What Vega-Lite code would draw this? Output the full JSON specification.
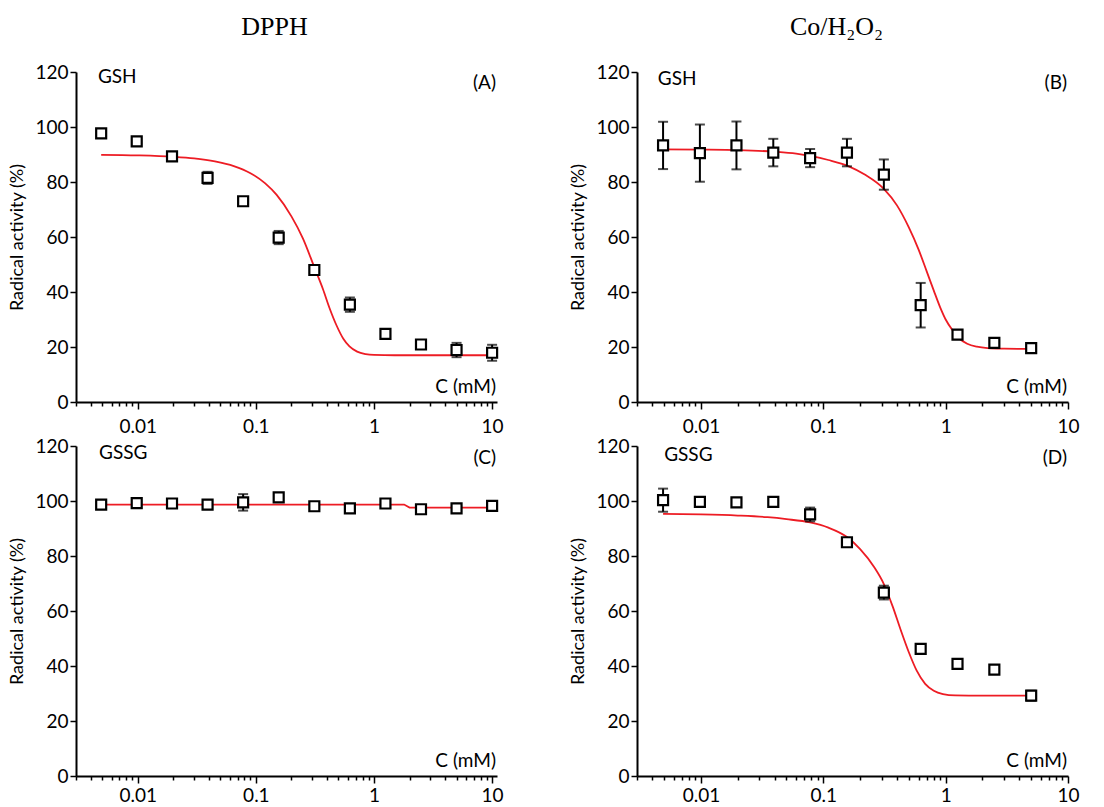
{
  "$schema": "https://vega.github.io/schema/vega-lite/v6.json",
  "padding": {"left": 8, "top": 14, "right": 5, "bottom": 5},
  "background": "white",
  "columns": 2,
  "bounds": "flush",
  "spacing": {"row": 44, "column": 140},
  "datasets": {
    "points": [
      {"p": "A", "c": 0.0049, "y": 97.7, "e": 0.8},
      {"p": "A", "c": 0.0098, "y": 94.8, "e": 0.6},
      {"p": "A", "c": 0.0195, "y": 89.3, "e": 0.8},
      {"p": "A", "c": 0.039, "y": 81.5, "e": 2.2},
      {"p": "A", "c": 0.078, "y": 73.0, "e": 0.7},
      {"p": "A", "c": 0.156, "y": 59.8, "e": 2.4},
      {"p": "A", "c": 0.3125, "y": 48.0, "e": 0.8},
      {"p": "A", "c": 0.625, "y": 35.4, "e": 2.6},
      {"p": "A", "c": 1.25, "y": 24.8, "e": 1.0},
      {"p": "A", "c": 2.5, "y": 20.9, "e": 0.9},
      {"p": "A", "c": 5, "y": 18.9, "e": 2.6},
      {"p": "A", "c": 10, "y": 17.9, "e": 2.9},
      {"p": "B", "c": 0.0049, "y": 93.3, "e": 8.6},
      {"p": "B", "c": 0.0098, "y": 90.5, "e": 10.4},
      {"p": "B", "c": 0.0195, "y": 93.3, "e": 8.7},
      {"p": "B", "c": 0.039, "y": 90.7, "e": 5.0},
      {"p": "B", "c": 0.078, "y": 88.7, "e": 3.3},
      {"p": "B", "c": 0.156, "y": 90.7, "e": 5.0},
      {"p": "B", "c": 0.3125, "y": 82.7, "e": 5.5},
      {"p": "B", "c": 0.625, "y": 35.2, "e": 8.1},
      {"p": "B", "c": 1.25, "y": 24.5, "e": 1.0},
      {"p": "B", "c": 2.5, "y": 21.5, "e": 1.0},
      {"p": "B", "c": 5, "y": 19.6, "e": 0.8},
      {"p": "C", "c": 0.0049, "y": 98.7, "e": 1.0},
      {"p": "C", "c": 0.0098, "y": 99.2, "e": 1.5},
      {"p": "C", "c": 0.0195, "y": 99.1, "e": 1.0},
      {"p": "C", "c": 0.039, "y": 98.7, "e": 0.6},
      {"p": "C", "c": 0.078, "y": 99.5, "e": 3.0},
      {"p": "C", "c": 0.156, "y": 101.3, "e": 0.6},
      {"p": "C", "c": 0.3125, "y": 98.1, "e": 1.0},
      {"p": "C", "c": 0.625, "y": 97.3, "e": 0.5},
      {"p": "C", "c": 1.25, "y": 99.1, "e": 1.0},
      {"p": "C", "c": 2.5, "y": 97.0, "e": 0.8},
      {"p": "C", "c": 5, "y": 97.3, "e": 0.5},
      {"p": "C", "c": 10, "y": 98.2, "e": 1.5},
      {"p": "D", "c": 0.0049, "y": 100.3, "e": 4.2},
      {"p": "D", "c": 0.0098, "y": 99.7, "e": 1.0},
      {"p": "D", "c": 0.0195, "y": 99.5, "e": 0.5},
      {"p": "D", "c": 0.039, "y": 99.7, "e": 1.0},
      {"p": "D", "c": 0.078, "y": 95.1, "e": 2.5},
      {"p": "D", "c": 0.156, "y": 85.0, "e": 1.0},
      {"p": "D", "c": 0.3125, "y": 66.7, "e": 2.5},
      {"p": "D", "c": 0.625, "y": 46.2, "e": 0.5},
      {"p": "D", "c": 1.25, "y": 40.8, "e": 0.5},
      {"p": "D", "c": 2.5, "y": 38.7, "e": 1.0},
      {"p": "D", "c": 5, "y": 29.2, "e": 1.8}
    ],
    "curves": [
      {"p": "A", "c": 0.0049, "y": 89.9},
      {"p": "A", "c": 0.01, "y": 89.7},
      {"p": "A", "c": 0.02, "y": 89.2},
      {"p": "A", "c": 0.03, "y": 88.6},
      {"p": "A", "c": 0.045, "y": 87.5},
      {"p": "A", "c": 0.065, "y": 85.8},
      {"p": "A", "c": 0.09, "y": 83.2},
      {"p": "A", "c": 0.12, "y": 79.5},
      {"p": "A", "c": 0.15, "y": 75.3},
      {"p": "A", "c": 0.2, "y": 67.5},
      {"p": "A", "c": 0.25, "y": 59.5},
      {"p": "A", "c": 0.3125, "y": 49.0},
      {"p": "A", "c": 0.37, "y": 41.0},
      {"p": "A", "c": 0.42, "y": 34.2},
      {"p": "A", "c": 0.48, "y": 28.0},
      {"p": "A", "c": 0.55, "y": 23.0},
      {"p": "A", "c": 0.62, "y": 20.2},
      {"p": "A", "c": 0.72, "y": 18.3},
      {"p": "A", "c": 0.85, "y": 17.4},
      {"p": "A", "c": 1.0, "y": 17.1},
      {"p": "A", "c": 1.5, "y": 17.0},
      {"p": "A", "c": 3, "y": 17.0},
      {"p": "A", "c": 10, "y": 17.0},
      {"p": "B", "c": 0.0049, "y": 91.9},
      {"p": "B", "c": 0.01, "y": 91.8},
      {"p": "B", "c": 0.02, "y": 91.6},
      {"p": "B", "c": 0.04, "y": 91.0},
      {"p": "B", "c": 0.06, "y": 90.3},
      {"p": "B", "c": 0.08, "y": 89.4},
      {"p": "B", "c": 0.11, "y": 88.0},
      {"p": "B", "c": 0.16, "y": 85.8},
      {"p": "B", "c": 0.22, "y": 82.6},
      {"p": "B", "c": 0.3125, "y": 77.5},
      {"p": "B", "c": 0.4, "y": 71.5},
      {"p": "B", "c": 0.5, "y": 63.5},
      {"p": "B", "c": 0.6, "y": 55.5},
      {"p": "B", "c": 0.7, "y": 47.5},
      {"p": "B", "c": 0.8, "y": 40.5},
      {"p": "B", "c": 0.9, "y": 34.5},
      {"p": "B", "c": 1.0, "y": 30.0},
      {"p": "B", "c": 1.15, "y": 25.8},
      {"p": "B", "c": 1.3, "y": 23.0},
      {"p": "B", "c": 1.5, "y": 21.2},
      {"p": "B", "c": 1.8, "y": 20.1},
      {"p": "B", "c": 2.2, "y": 19.6},
      {"p": "B", "c": 3, "y": 19.4},
      {"p": "B", "c": 5, "y": 19.3},
      {"p": "C", "c": 0.0049, "y": 98.7},
      {"p": "C", "c": 0.1, "y": 98.7},
      {"p": "C", "c": 1.0, "y": 98.7},
      {"p": "C", "c": 1.8, "y": 98.7},
      {"p": "C", "c": 2.0, "y": 97.6},
      {"p": "C", "c": 5, "y": 97.6},
      {"p": "C", "c": 10, "y": 97.6},
      {"p": "D", "c": 0.0049, "y": 95.3},
      {"p": "D", "c": 0.01, "y": 95.1},
      {"p": "D", "c": 0.02, "y": 94.7},
      {"p": "D", "c": 0.035, "y": 94.1},
      {"p": "D", "c": 0.05, "y": 93.4},
      {"p": "D", "c": 0.078, "y": 92.2},
      {"p": "D", "c": 0.11, "y": 90.3},
      {"p": "D", "c": 0.156, "y": 86.9},
      {"p": "D", "c": 0.2, "y": 82.5},
      {"p": "D", "c": 0.26, "y": 76.0},
      {"p": "D", "c": 0.3125, "y": 69.8},
      {"p": "D", "c": 0.37, "y": 61.5},
      {"p": "D", "c": 0.43, "y": 53.0},
      {"p": "D", "c": 0.5, "y": 45.0},
      {"p": "D", "c": 0.58, "y": 38.3},
      {"p": "D", "c": 0.68, "y": 33.5},
      {"p": "D", "c": 0.8, "y": 31.0},
      {"p": "D", "c": 0.95, "y": 29.8},
      {"p": "D", "c": 1.2, "y": 29.3},
      {"p": "D", "c": 2, "y": 29.2},
      {"p": "D", "c": 5, "y": 29.2}
    ]
  },
  "concat": [
    {
      "width": 421, "height": 330,
      "title": {"text": "DPPH", "dx": -12},
      "encoding": {
        "x": {"field": "c", "type": "quantitative", "scale": {"type": "log", "domain": [0.003, 11], "nice": false},
          "axis": {"title": null, "labelPadding": 8, "values": [0.003,0.004,0.005,0.006,0.007,0.008,0.009,0.01,0.02,0.03,0.04,0.05,0.06,0.07,0.08,0.09,0.1,0.2,0.3,0.4,0.5,0.6,0.7,0.8,0.9,1,2,3,4,5,6,7,8,9,10],
            "labelExpr": "indexof([0.01,0.1,1,10], datum.value) >= 0 ? format(datum.value, '~g') : ''",
            "tickSize": {"condition": {"test": "indexof([0.01,0.1,1,10], datum.value) >= 0", "value": 7}, "value": 4}}},
        "y": {"field": "y", "type": "quantitative", "scale": {"domain": [0, 120], "nice": false},
          "axis": {"title": "Radical activity (%)", "values": [0, 20, 40, 60, 80, 100, 120]}}
      },
      "layer": [
        {"data": {"name": "curves"}, "transform": [{"filter": "datum.p === 'A'"}], "mark": {"type": "line", "color": "#ed1c24", "strokeWidth": 1.8, "interpolate": "monotone"}},
        {"data": {"name": "points"}, "transform": [{"filter": "datum.p === 'A'"}], "mark": {"type": "errorbar", "ticks": true, "size": 10, "thickness": 2, "color": "black"}, "encoding": {"yError": {"field": "e"}}},
        {"data": {"name": "points"}, "transform": [{"filter": "datum.p === 'A'"}], "mark": {"type": "point", "shape": "square", "size": 100, "fill": "white", "stroke": "black", "strokeWidth": 2.2, "opacity": 1}},
        {"data": {"name": "points"}, "transform": [{"filter": "datum.p === 'A' && datum.c === 10"}], "mark": {"type": "text", "text": "GSH", "align": "left", "baseline": "alphabetic", "font": "Lato", "fontSize": 19, "color": "black"}, "encoding": {"x": {"datum": 0.0046, "type": "quantitative"}, "y": {"datum": 116, "type": "quantitative"}}},
        {"data": {"name": "points"}, "transform": [{"filter": "datum.p === 'A' && datum.c === 10"}], "mark": {"type": "text", "text": "(A)", "align": "right", "baseline": "alphabetic", "dx": -1, "font": "Lato", "fontSize": 19, "color": "black"}, "encoding": {"x": {"datum": 11, "type": "quantitative"}, "y": {"datum": 114, "type": "quantitative"}}},
        {"data": {"name": "points"}, "transform": [{"filter": "datum.p === 'A' && datum.c === 10"}], "mark": {"type": "text", "text": "C (mM)", "align": "right", "baseline": "alphabetic", "dx": -1, "font": "Lato", "fontSize": 19, "color": "black"}, "encoding": {"x": {"datum": 11, "type": "quantitative"}, "y": {"datum": 3.3, "type": "quantitative"}}}
      ]
    },
    {
      "width": 431, "height": 330,
      "title": {"text": "Co/H₂O₂", "dx": -16},
      "encoding": {
        "x": {"field": "c", "type": "quantitative", "scale": {"type": "log", "domain": [0.003, 10], "nice": false},
          "axis": {"title": null, "labelPadding": 8, "values": [0.003,0.004,0.005,0.006,0.007,0.008,0.009,0.01,0.02,0.03,0.04,0.05,0.06,0.07,0.08,0.09,0.1,0.2,0.3,0.4,0.5,0.6,0.7,0.8,0.9,1,2,3,4,5,6,7,8,9,10],
            "labelExpr": "indexof([0.01,0.1,1,10], datum.value) >= 0 ? format(datum.value, '~g') : ''",
            "tickSize": {"condition": {"test": "indexof([0.01,0.1,1,10], datum.value) >= 0", "value": 7}, "value": 4}}},
        "y": {"field": "y", "type": "quantitative", "scale": {"domain": [0, 120], "nice": false},
          "axis": {"title": "Radical activity (%)", "values": [0, 20, 40, 60, 80, 100, 120]}}
      },
      "layer": [
        {"data": {"name": "curves"}, "transform": [{"filter": "datum.p === 'B'"}], "mark": {"type": "line", "color": "#ed1c24", "strokeWidth": 1.8, "interpolate": "monotone"}},
        {"data": {"name": "points"}, "transform": [{"filter": "datum.p === 'B'"}], "mark": {"type": "errorbar", "ticks": true, "size": 10, "thickness": 2, "color": "black"}, "encoding": {"yError": {"field": "e"}}},
        {"data": {"name": "points"}, "transform": [{"filter": "datum.p === 'B'"}], "mark": {"type": "point", "shape": "square", "size": 100, "fill": "white", "stroke": "black", "strokeWidth": 2.2, "opacity": 1}},
        {"data": {"name": "points"}, "transform": [{"filter": "datum.p === 'B' && datum.c === 5"}], "mark": {"type": "text", "text": "GSH", "align": "left", "baseline": "alphabetic", "font": "Lato", "fontSize": 19, "color": "black"}, "encoding": {"x": {"datum": 0.00444, "type": "quantitative"}, "y": {"datum": 115.3, "type": "quantitative"}}},
        {"data": {"name": "points"}, "transform": [{"filter": "datum.p === 'B' && datum.c === 5"}], "mark": {"type": "text", "text": "(B)", "align": "right", "baseline": "alphabetic", "dx": -1, "font": "Lato", "fontSize": 19, "color": "black"}, "encoding": {"x": {"datum": 10, "type": "quantitative"}, "y": {"datum": 113.8, "type": "quantitative"}}},
        {"data": {"name": "points"}, "transform": [{"filter": "datum.p === 'B' && datum.c === 5"}], "mark": {"type": "text", "text": "C (mM)", "align": "right", "baseline": "alphabetic", "dx": -1, "font": "Lato", "fontSize": 19, "color": "black"}, "encoding": {"x": {"datum": 10, "type": "quantitative"}, "y": {"datum": 3.3, "type": "quantitative"}}}
      ]
    },
    {
      "width": 421, "height": 330,
      "encoding": {
        "x": {"field": "c", "type": "quantitative", "scale": {"type": "log", "domain": [0.003, 11], "nice": false},
          "axis": {"title": null, "labelPadding": 3, "values": [0.003,0.004,0.005,0.006,0.007,0.008,0.009,0.01,0.02,0.03,0.04,0.05,0.06,0.07,0.08,0.09,0.1,0.2,0.3,0.4,0.5,0.6,0.7,0.8,0.9,1,2,3,4,5,6,7,8,9,10],
            "labelExpr": "indexof([0.01,0.1,1,10], datum.value) >= 0 ? format(datum.value, '~g') : ''",
            "tickSize": {"condition": {"test": "indexof([0.01,0.1,1,10], datum.value) >= 0", "value": 7}, "value": 4}}},
        "y": {"field": "y", "type": "quantitative", "scale": {"domain": [0, 120], "nice": false},
          "axis": {"title": "Radical activity (%)", "values": [0, 20, 40, 60, 80, 100, 120]}}
      },
      "layer": [
        {"data": {"name": "curves"}, "transform": [{"filter": "datum.p === 'C'"}], "mark": {"type": "line", "color": "#ed1c24", "strokeWidth": 1.8}},
        {"data": {"name": "points"}, "transform": [{"filter": "datum.p === 'C'"}], "mark": {"type": "errorbar", "ticks": true, "size": 10, "thickness": 2, "color": "black"}, "encoding": {"yError": {"field": "e"}}},
        {"data": {"name": "points"}, "transform": [{"filter": "datum.p === 'C'"}], "mark": {"type": "point", "shape": "square", "size": 100, "fill": "white", "stroke": "black", "strokeWidth": 2.2, "opacity": 1}},
        {"data": {"name": "points"}, "transform": [{"filter": "datum.p === 'C' && datum.c === 10"}], "mark": {"type": "text", "text": "GSSG", "align": "left", "baseline": "alphabetic", "font": "Lato", "fontSize": 19, "color": "black"}, "encoding": {"x": {"datum": 0.0047, "type": "quantitative"}, "y": {"datum": 115.3, "type": "quantitative"}}},
        {"data": {"name": "points"}, "transform": [{"filter": "datum.p === 'C' && datum.c === 10"}], "mark": {"type": "text", "text": "(C)", "align": "right", "baseline": "alphabetic", "dx": -1, "font": "Lato", "fontSize": 19, "color": "black"}, "encoding": {"x": {"datum": 11, "type": "quantitative"}, "y": {"datum": 113.6, "type": "quantitative"}}},
        {"data": {"name": "points"}, "transform": [{"filter": "datum.p === 'C' && datum.c === 10"}], "mark": {"type": "text", "text": "C (mM)", "align": "right", "baseline": "alphabetic", "dx": -1, "font": "Lato", "fontSize": 19, "color": "black"}, "encoding": {"x": {"datum": 11, "type": "quantitative"}, "y": {"datum": 3.3, "type": "quantitative"}}}
      ]
    },
    {
      "width": 431, "height": 330,
      "encoding": {
        "x": {"field": "c", "type": "quantitative", "scale": {"type": "log", "domain": [0.003, 10], "nice": false},
          "axis": {"title": null, "labelPadding": 3, "values": [0.003,0.004,0.005,0.006,0.007,0.008,0.009,0.01,0.02,0.03,0.04,0.05,0.06,0.07,0.08,0.09,0.1,0.2,0.3,0.4,0.5,0.6,0.7,0.8,0.9,1,2,3,4,5,6,7,8,9,10],
            "labelExpr": "indexof([0.01,0.1,1,10], datum.value) >= 0 ? format(datum.value, '~g') : ''",
            "tickSize": {"condition": {"test": "indexof([0.01,0.1,1,10], datum.value) >= 0", "value": 7}, "value": 4}}},
        "y": {"field": "y", "type": "quantitative", "scale": {"domain": [0, 120], "nice": false},
          "axis": {"title": "Radical activity (%)", "values": [0, 20, 40, 60, 80, 100, 120]}}
      },
      "layer": [
        {"data": {"name": "curves"}, "transform": [{"filter": "datum.p === 'D'"}], "mark": {"type": "line", "color": "#ed1c24", "strokeWidth": 1.8, "interpolate": "monotone"}},
        {"data": {"name": "points"}, "transform": [{"filter": "datum.p === 'D'"}], "mark": {"type": "errorbar", "ticks": true, "size": 10, "thickness": 2, "color": "black"}, "encoding": {"yError": {"field": "e"}}},
        {"data": {"name": "points"}, "transform": [{"filter": "datum.p === 'D'"}], "mark": {"type": "point", "shape": "square", "size": 100, "fill": "white", "stroke": "black", "strokeWidth": 2.2, "opacity": 1}},
        {"data": {"name": "points"}, "transform": [{"filter": "datum.p === 'D' && datum.c === 5"}], "mark": {"type": "text", "text": "GSSG", "align": "left", "baseline": "alphabetic", "font": "Lato", "fontSize": 19, "color": "black"}, "encoding": {"x": {"datum": 0.005, "type": "quantitative"}, "y": {"datum": 114.6, "type": "quantitative"}}},
        {"data": {"name": "points"}, "transform": [{"filter": "datum.p === 'D' && datum.c === 5"}], "mark": {"type": "text", "text": "(D)", "align": "right", "baseline": "alphabetic", "dx": -1, "font": "Lato", "fontSize": 19, "color": "black"}, "encoding": {"x": {"datum": 10, "type": "quantitative"}, "y": {"datum": 113.5, "type": "quantitative"}}},
        {"data": {"name": "points"}, "transform": [{"filter": "datum.p === 'D' && datum.c === 5"}], "mark": {"type": "text", "text": "C (mM)", "align": "right", "baseline": "alphabetic", "dx": -1, "font": "Lato", "fontSize": 19, "color": "black"}, "encoding": {"x": {"datum": 10, "type": "quantitative"}, "y": {"datum": 3.3, "type": "quantitative"}}}
      ]
    }
  ],
  "config": {
    "view": {"stroke": null},
    "font": "Lato",
    "axis": {"grid": false, "domainColor": "black", "domainWidth": 2, "tickColor": "black", "tickWidth": 1.5,
      "labelFont": "Lato", "labelFontSize": 19, "labelColor": "black", "labelFlush": false, "labelOverlap": false, "labelBound": false,
      "titleFont": "Lato", "titleFontSize": 18, "titleFontWeight": "normal", "titleColor": "black"},
    "axisY": {"tickSize": 6, "labelPadding": 2, "titlePadding": 8},
    "title": {"font": "Liberation Serif", "fontSize": 26, "fontWeight": "normal", "color": "black", "anchor": "middle", "frame": "group", "offset": 23}
  }
}
